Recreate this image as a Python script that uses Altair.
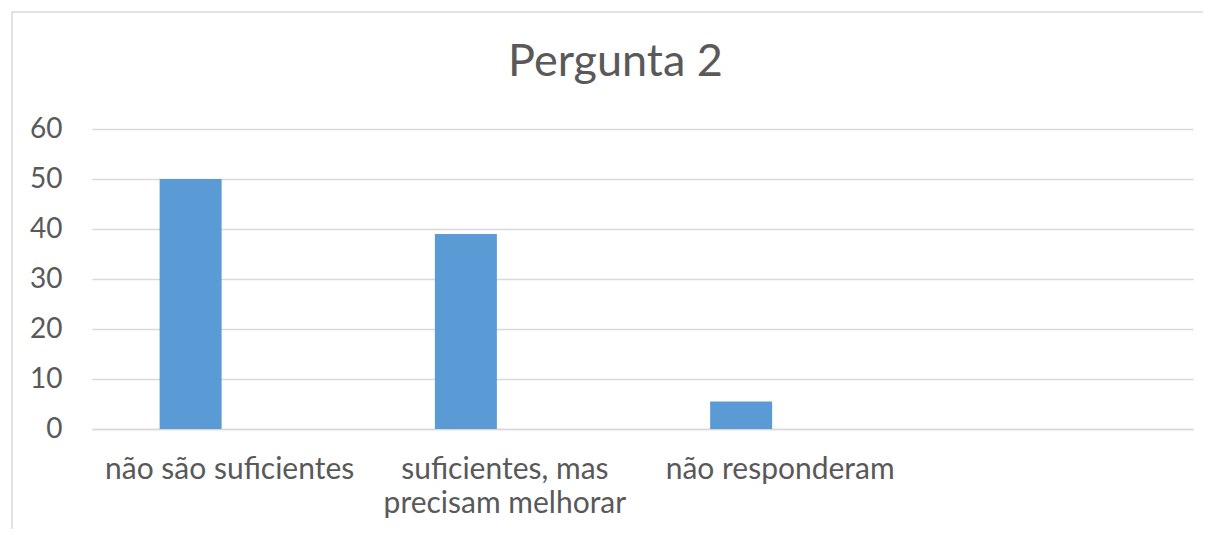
import altair as alt
import pandas as pd

categories = ["não são suficientes", "suficientes, mas precisam melhorar", "não responderam", ""]
values = [50, 39, 5.5]
y_ticks = [0, 10, 20, 30, 40, 50, 60]
title_text = "Pergunta 2"

df = pd.DataFrame({"categoria": categories[:3], "valor": values})

FONT = "Lato"
TEXT = "#595959"
GRID = "#d9d9d9"

bars = alt.Chart(df).mark_bar(color="#5b9bd5", width=62, xOffset=-39).encode(
    x=alt.X(
        "categoria:N",
        sort=categories,
        scale=alt.Scale(domain=categories, paddingInner=0, paddingOuter=0),
        axis=alt.Axis(
            title=None,
            labelAngle=0,
            ticks=False,
            tickSize=0,
            domain=True,
            domainColor=GRID,
            domainWidth=1.5,
            labelFont=FONT,
            labelFontSize=30,
            labelColor=TEXT,
            labelPadding=49,
            labelBaseline="alphabetic",
            labelLineHeight=34,
            labelLimit=400,
            labelExpr="datum.value == 'suficientes, mas precisam melhorar' ? ['suficientes, mas', 'precisam melhorar'] : datum.value",
        ),
    ),
    y=alt.Y(
        "valor:Q",
        scale=alt.Scale(domain=[0, 60], nice=False),
        axis=alt.Axis(
            title=None,
            values=y_ticks,
            ticks=False,
            tickSize=0,
            domain=False,
            grid=True,
            gridColor=GRID,
            gridWidth=1.5,
            labelFont=FONT,
            labelFontSize=28,
            labelColor=TEXT,
            labelPadding=30,
        ),
    ),
)

frame_data = alt.Data(values=[{"k": 1}])
left_border = alt.Chart(frame_data).mark_rule(color=GRID, strokeWidth=1.5).encode(
    x=alt.value(-80), y=alt.value(-117), y2=alt.value(420)
)
top_border = alt.Chart(frame_data).mark_rule(color=GRID, strokeWidth=1.5).encode(
    x=alt.value(-80), x2=alt.value(1140), y=alt.value(-117)
)

chart = alt.layer(left_border, top_border, bars).properties(
    width=1101,
    height=300,
    background="white",
    title=alt.TitleParams(
        title_text,
        font=FONT,
        fontSize=45,
        fontWeight="normal",
        color=TEXT,
        anchor="middle",
        frame="group",
        baseline="alphabetic",
        offset=0,
        dy=110,
        dx=-27,
    ),
    autosize=alt.AutoSizeParams(type="none"),
    padding={"left": 84, "top": 121, "right": 10, "bottom": 100},
).configure_view(strokeWidth=0, stroke="transparent")

chart.save("out.html", embed_options={"renderer": "svg", "actions": False})
